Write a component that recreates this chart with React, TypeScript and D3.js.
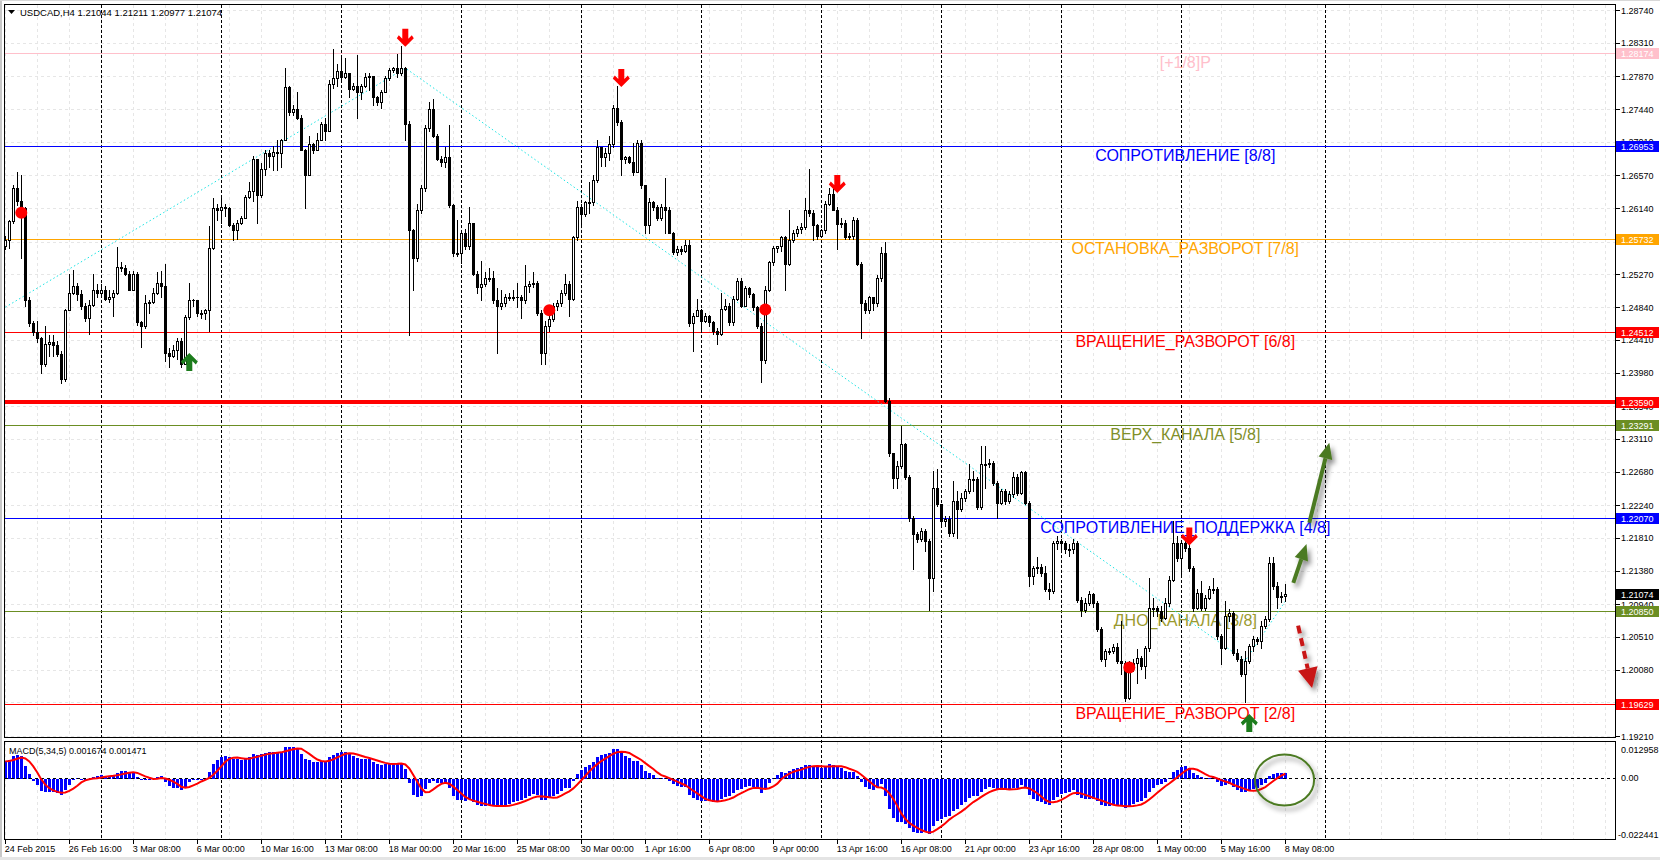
import React from 'react';
import * as d3 from 'd3';

// ---------- DATA ----------
const SYMBOL_HEADER = 'USDCAD,H4  1.21044 1.21211 1.20977 1.21074';
const MACD_HEADER = 'MACD(5,34,5) 0.001674 0.001471';

const FIRST_OPEN = 1.2565;
const CLOSE = [
  1.2572, 1.2597, 1.2641, 1.2624, 1.2614, 1.2493, 1.2463, 1.2451, 1.2443, 1.2410,
  1.2436, 1.2438, 1.2435, 1.2423, 1.2390, 1.2481, 1.2503, 1.2512, 1.2502, 1.2485,
  1.2470, 1.2487, 1.2507, 1.2503, 1.2507, 1.2495, 1.2498, 1.2503, 1.2537, 1.2535,
  1.2528, 1.2507, 1.2527, 1.2464, 1.2459, 1.2490, 1.2491, 1.2503, 1.2516, 1.2512,
  1.2424, 1.2420, 1.2428, 1.2440, 1.2410, 1.2471, 1.2494, 1.2493, 1.2476, 1.2477,
  1.2480, 1.2562, 1.2614, 1.2611, 1.2616, 1.2614, 1.2592, 1.2585, 1.2595, 1.2601,
  1.2629, 1.2637, 1.2678, 1.2632, 1.2666, 1.2686, 1.2683, 1.2688, 1.2687, 1.2704,
  1.2773, 1.2740, 1.2744, 1.2733, 1.2691, 1.2657, 1.2698, 1.2691, 1.2704, 1.2724,
  1.2716, 1.2777, 1.2785, 1.2794, 1.2786, 1.2791, 1.2771, 1.2775, 1.2766, 1.2774,
  1.2786, 1.2787, 1.2760, 1.2754, 1.2766, 1.2785, 1.2796, 1.2798, 1.2791, 1.2798,
  1.2724, 1.2586, 1.2548, 1.2612, 1.2640, 1.2719, 1.2744, 1.2709, 1.2678, 1.2675,
  1.2681, 1.2618, 1.2555, 1.2555, 1.2582, 1.2564, 1.2594, 1.2528, 1.2510, 1.2515,
  1.2523, 1.2523, 1.2493, 1.2486, 1.2489, 1.2497, 1.2497, 1.2498, 1.2497, 1.2493,
  1.2512, 1.2514, 1.2516, 1.2477, 1.2424, 1.2460, 1.2468, 1.2486, 1.2489, 1.2503,
  1.2515, 1.2495, 1.2576, 1.2615, 1.2607, 1.2622, 1.2622, 1.2651, 1.2694, 1.2681,
  1.2687, 1.2698, 1.2745, 1.2727, 1.2678, 1.2681, 1.2675, 1.2661, 1.2699, 1.2645,
  1.2592, 1.2622, 1.2615, 1.2601, 1.2615, 1.2612, 1.2582, 1.2556, 1.2560, 1.2558,
  1.2566, 1.2463, 1.2473, 1.2480, 1.2466, 1.2473, 1.2464, 1.2453, 1.2449, 1.2482,
  1.2486, 1.2464, 1.2495, 1.2519, 1.2486, 1.2509, 1.2502, 1.2484, 1.2460, 1.2415,
  1.2507, 1.2543, 1.2562, 1.2564, 1.2576, 1.2541, 1.2572, 1.2582, 1.2587, 1.2589,
  1.2611, 1.2608, 1.2592, 1.2578, 1.2585, 1.2620, 1.2633, 1.2612, 1.2593, 1.2595,
  1.2576, 1.2578, 1.2598, 1.2541, 1.2489, 1.2481, 1.2497, 1.2490, 1.2522, 1.2555,
  1.2361, 1.2292, 1.2260, 1.2276, 1.2305, 1.2261, 1.2207, 1.2186, 1.2180, 1.2190,
  1.2177, 1.2129, 1.2247, 1.2226, 1.2203, 1.2206, 1.2188, 1.2230, 1.2219, 1.2234,
  1.2243, 1.2259, 1.2259, 1.2222, 1.2278, 1.2278, 1.2280, 1.2253, 1.2227, 1.2243,
  1.2230, 1.2239, 1.2261, 1.2240, 1.2267, 1.2227, 1.2131, 1.2142, 1.2143, 1.2135,
  1.2114, 1.2112, 1.2175, 1.2177, 1.2175, 1.2167, 1.2167, 1.2175, 1.2100, 1.2087,
  1.2096, 1.2108, 1.2095, 1.2062, 1.2022, 1.2033, 1.2033, 1.2038, 1.2020, 1.2017,
  1.1971, 1.2013, 1.2017, 1.2024, 1.2013, 1.2036, 1.2089, 1.2089, 1.2085, 1.2076,
  1.2095, 1.2126, 1.2175, 1.2155, 1.2175, 1.2168, 1.2142, 1.2089, 1.2109, 1.2089,
  1.2102, 1.2114, 1.2114, 1.2052, 1.2036, 1.2078, 1.2082, 1.2030, 1.2022, 1.2003,
  1.2020, 1.2039, 1.2048, 1.2046, 1.2065, 1.2075, 1.2148, 1.2118, 1.2103, 1.21044,
  1.21074,
];
const HIGH = [
  1.2577, 1.2599, 1.2645, 1.2662, 1.2657, 1.2616, 1.2497, 1.2466, 1.2466, 1.2445,
  1.2459, 1.2447, 1.2447, 1.2439, 1.2427, 1.2482, 1.2528, 1.2533, 1.2516, 1.2506,
  1.2489, 1.2494, 1.2528, 1.2515, 1.2515, 1.2512, 1.2506, 1.2506, 1.2563, 1.2543,
  1.2539, 1.2531, 1.2532, 1.2530, 1.2466, 1.2500, 1.2494, 1.2509, 1.2530, 1.2532,
  1.2541, 1.2430, 1.2434, 1.2443, 1.2443, 1.2474, 1.2516, 1.2495, 1.2493, 1.2481,
  1.2482, 1.2591, 1.2627, 1.2619, 1.2628, 1.2620, 1.2615, 1.2595, 1.2598, 1.2604,
  1.2632, 1.2648, 1.2683, 1.2677, 1.2674, 1.2690, 1.2690, 1.2696, 1.2703, 1.2705,
  1.2798, 1.2775, 1.2749, 1.2766, 1.2736, 1.2692, 1.2709, 1.2700, 1.2713, 1.2727,
  1.2732, 1.2782, 1.2823, 1.2804, 1.2815, 1.2811, 1.2791, 1.2778, 1.2815, 1.2777,
  1.2791, 1.2791, 1.2787, 1.2761, 1.2769, 1.2787, 1.2798, 1.2800, 1.2817, 1.2827,
  1.2800, 1.2728, 1.2587, 1.2620, 1.2644, 1.2723, 1.2754, 1.2757, 1.2712, 1.2683,
  1.2694, 1.2723, 1.2619, 1.2598, 1.2585, 1.2587, 1.2615, 1.2595, 1.2532, 1.2545,
  1.2530, 1.2535, 1.2532, 1.2509, 1.2506, 1.2502, 1.2503, 1.2506, 1.2516, 1.2500,
  1.2539, 1.2518, 1.2530, 1.2519, 1.2480, 1.2466, 1.2480, 1.2489, 1.2493, 1.2506,
  1.2528, 1.2519, 1.2578, 1.2624, 1.2620, 1.2624, 1.2648, 1.2657, 1.2703, 1.2695,
  1.2693, 1.2709, 1.2749, 1.2775, 1.2730, 1.2683, 1.2683, 1.2699, 1.2703, 1.2703,
  1.2645, 1.2628, 1.2624, 1.2618, 1.2620, 1.2654, 1.2615, 1.2583, 1.2565, 1.2565,
  1.2572, 1.2572, 1.2476, 1.2495, 1.2482, 1.2477, 1.2474, 1.2466, 1.2457, 1.2503,
  1.2495, 1.2489, 1.2499, 1.2522, 1.2522, 1.2512, 1.2511, 1.2503, 1.2486, 1.2463,
  1.2512, 1.2545, 1.2565, 1.2565, 1.2578, 1.2577, 1.2611, 1.2585, 1.2591, 1.2595,
  1.2627, 1.2666, 1.2611, 1.2593, 1.2587, 1.2624, 1.2641, 1.2640, 1.2615, 1.2601,
  1.2598, 1.2582, 1.2602, 1.2601, 1.2543, 1.2493, 1.2499, 1.2498, 1.2526, 1.2563,
  1.2569, 1.2365, 1.2293, 1.2282, 1.2328, 1.2306, 1.2264, 1.2210, 1.2189, 1.2194,
  1.2193, 1.2180, 1.2269, 1.2271, 1.2223, 1.2210, 1.2210, 1.2256, 1.2243, 1.2240,
  1.2245, 1.2278, 1.2269, 1.2261, 1.2302, 1.2302, 1.2285, 1.2282, 1.2256, 1.2245,
  1.2245, 1.2243, 1.2267, 1.2265, 1.2269, 1.2269, 1.2230, 1.2144, 1.2156, 1.2147,
  1.2144, 1.2122, 1.2177, 1.2184, 1.2180, 1.2177, 1.2173, 1.2180, 1.2177, 1.2103,
  1.2102, 1.2112, 1.2109, 1.2098, 1.2064, 1.2035, 1.2037, 1.2042, 1.2043, 1.2072,
  1.2020, 1.2020, 1.2022, 1.2035, 1.2026, 1.2039, 1.2129, 1.2102, 1.2092, 1.2092,
  1.2102, 1.2131, 1.2203, 1.2184, 1.2177, 1.2177, 1.2177, 1.2144, 1.2114, 1.2125,
  1.2106, 1.2118, 1.2129, 1.2116, 1.2055, 1.2098, 1.2088, 1.2085, 1.2035, 1.2026,
  1.2033, 1.2042, 1.2052, 1.2051, 1.2072, 1.2079, 1.2156, 1.2156, 1.2123, 1.2110,
  1.21211,
];
const LOW = [
  1.2561, 1.2562, 1.2595, 1.2618, 1.2549, 1.2486, 1.2459, 1.2448, 1.2438, 1.2398,
  1.2407, 1.2420, 1.2420, 1.2420, 1.2385, 1.2387, 1.2480, 1.2502, 1.2493, 1.2482,
  1.2466, 1.2449, 1.2485, 1.2498, 1.2498, 1.2493, 1.2491, 1.2473, 1.2502, 1.2532,
  1.2526, 1.2506, 1.2506, 1.2461, 1.2432, 1.2457, 1.2476, 1.2489, 1.2502, 1.2497,
  1.2414, 1.2405, 1.2419, 1.2416, 1.2405, 1.2409, 1.2468, 1.2485, 1.2473, 1.2470,
  1.2468, 1.2453, 1.2561, 1.2598, 1.2595, 1.2604, 1.2590, 1.2572, 1.2573, 1.2593,
  1.2601, 1.2627, 1.2624, 1.2595, 1.2629, 1.2658, 1.2668, 1.2664, 1.2664, 1.2668,
  1.2703, 1.2737, 1.2736, 1.2731, 1.2690, 1.2614, 1.2658, 1.2687, 1.2690, 1.2703,
  1.2703, 1.2715, 1.2772, 1.2775, 1.2782, 1.2785, 1.2760, 1.2769, 1.2733, 1.2758,
  1.2773, 1.2769, 1.2749, 1.2749, 1.2746, 1.2766, 1.2782, 1.2793, 1.2786, 1.2789,
  1.2703, 1.2447, 1.2506, 1.2545, 1.2608, 1.2637, 1.2716, 1.2707, 1.2677, 1.2670,
  1.2668, 1.2616, 1.2551, 1.2551, 1.2542, 1.2560, 1.2561, 1.2526, 1.2503, 1.2494,
  1.2512, 1.2519, 1.2490, 1.2424, 1.2482, 1.2485, 1.2493, 1.2494, 1.2484, 1.2470,
  1.2490, 1.2504, 1.2511, 1.2474, 1.2410, 1.2409, 1.2453, 1.2466, 1.2480, 1.2486,
  1.2500, 1.2473, 1.2493, 1.2572, 1.2589, 1.2604, 1.2608, 1.2618, 1.2648, 1.2670,
  1.2670, 1.2677, 1.2695, 1.2723, 1.2657, 1.2674, 1.2673, 1.2657, 1.2661, 1.2641,
  1.2582, 1.2581, 1.2611, 1.2598, 1.2598, 1.2582, 1.2581, 1.2554, 1.2552, 1.2554,
  1.2556, 1.2460, 1.2427, 1.2472, 1.2451, 1.2464, 1.2460, 1.2449, 1.2436, 1.2448,
  1.2480, 1.2461, 1.2461, 1.2493, 1.2484, 1.2485, 1.2498, 1.2481, 1.2457, 1.2386,
  1.2411, 1.2505, 1.2540, 1.2556, 1.2558, 1.2507, 1.2539, 1.2569, 1.2578, 1.2581,
  1.2587, 1.2604, 1.2572, 1.2574, 1.2576, 1.2582, 1.2618, 1.2611, 1.2561, 1.2589,
  1.2573, 1.2574, 1.2573, 1.2539, 1.2443, 1.2477, 1.2477, 1.2480, 1.2486, 1.2519,
  1.2359, 1.2289, 1.2247, 1.2247, 1.2273, 1.2259, 1.2203, 1.2140, 1.2176, 1.2177,
  1.2164, 1.2087, 1.2112, 1.2223, 1.2199, 1.2197, 1.2184, 1.2184, 1.2181, 1.2217,
  1.2230, 1.2240, 1.2243, 1.2219, 1.2219, 1.2247, 1.2274, 1.2251, 1.2207, 1.2226,
  1.2226, 1.2227, 1.2235, 1.2238, 1.2239, 1.2225, 1.2118, 1.2121, 1.2135, 1.2131,
  1.2112, 1.2101, 1.2109, 1.2167, 1.2167, 1.2161, 1.2157, 1.2161, 1.2097, 1.2079,
  1.2084, 1.2093, 1.2091, 1.2059, 1.2020, 1.2013, 1.2029, 1.2030, 1.2017, 1.2003,
  1.1967, 1.1970, 1.2006, 1.1990, 1.2009, 1.1997, 1.2033, 1.2079, 1.2079, 1.2072,
  1.2075, 1.2092, 1.2125, 1.2151, 1.2131, 1.2164, 1.2138, 1.2085, 1.2088, 1.2087,
  1.2087, 1.2101, 1.2109, 1.2049, 1.2015, 1.2035, 1.2072, 1.2027, 1.2020, 1.2000,
  1.1966, 1.2017, 1.2033, 1.2042, 1.2036, 1.2063, 1.2072, 1.2114, 1.2089, 1.2097,
  1.20977,
];

const PRICE_TICKS = [
  1.2874, 1.2831, 1.2787, 1.2744, 1.2701, 1.2657, 1.2614, 1.257, 1.2527, 1.2484,
  1.2441, 1.2398, 1.2354, 1.2311, 1.2268, 1.2224, 1.2181, 1.2138, 1.2094, 1.2051,
  1.2008, 1.1965, 1.1921,
];
const TIME_LABEL_BARS = [0, 16, 32, 48, 64, 80, 96, 112, 128, 144, 160, 176, 192, 208, 224, 240, 256, 272, 288, 304, 320];
const TIME_LABELS = [
  '24 Feb 2015', '26 Feb 16:00', '3 Mar 08:00', '6 Mar 00:00', '10 Mar 16:00', '13 Mar 08:00',
  '18 Mar 00:00', '20 Mar 16:00', '25 Mar 08:00', '30 Mar 00:00', '1 Apr 16:00', '6 Apr 08:00',
  '9 Apr 00:00', '13 Apr 16:00', '16 Apr 08:00', '21 Apr 00:00', '23 Apr 16:00', '28 Apr 08:00',
  '1 May 00:00', '5 May 16:00', '8 May 08:00',
];
const WEEK_SEPARATOR_BARS = [24, 54, 84, 114, 144, 174, 204, 234, 264, 294, 330];

const LEVEL_PRICES = [1.28174, 1.26953, 1.25732, 1.24512, 1.2359, 1.23291, 1.2207, 1.2085, 1.19629];
const LEVEL_NAMES = [
  '[+1/8]P', 'СОПРОТИВЛЕНИЕ [8/8]', 'ОСТАНОВКА_РАЗВОРОТ [7/8]', 'ВРАЩЕНИЕ_РАЗВОРОТ [6/8]', '',
  'ВЕРХ_КАНАЛА [5/8]', 'СОПРОТИВЛЕНИЕ_ПОДДЕРЖКА [4/8]', 'ДНО_КАНАЛА [3/8]', 'ВРАЩЕНИЕ_РАЗВОРОТ [2/8]',
];
const LEVEL_COLORS = ['#FFC0CB', '#0000FF', '#FFA500', '#FF0000', '#FF0000', '#6B8E23', '#0000FF', '#6B8E23', '#FF0000'];
const LEVEL_TEXT_COLORS = ['#FFC0CB', '#0000FF', '#FFA500', '#FF0000', '#FF0000', '#7F8F2A', '#0000FF', '#9A9A2E', '#FF0000'];
const LEVEL_WIDTHS = [1, 1, 1, 1, 3.5, 1, 1, 1, 1];
const LEVEL_LABEL_BAR = 295;
const CURRENT_PRICE = 1.21074;

const SELL_SIGNALS = [{ bar: 100, price: 1.2826 }, { bar: 154, price: 1.2773 }, { bar: 208, price: 1.2634 }, { bar: 296, price: 1.2171 }];
const BUY_SIGNALS = [{ bar: 46, price: 1.2424 }, { bar: 311, price: 1.195 }];
const DOT_SIGNALS = [{ bar: 4, price: 1.2608 }, { bar: 136, price: 1.248 }, { bar: 190, price: 1.2481 }, { bar: 281, price: 1.2011 }];
const ZIGZAG = [{ bar: 0, price: 1.2484 }, { bar: 100, price: 1.2798 }, { bar: 310, price: 1.202 }, { bar: 320, price: 1.2098 }];
const SR_SEGMENT = { fromBar: 262, toBar: 329, price: 1.21786 };
const UP_ARROWS = [
  { fromBar: 322, fromPrice: 1.2122, toBar: 325.3, toPrice: 1.2173 },
  { fromBar: 326, fromPrice: 1.2201, toBar: 331, toPrice: 1.2306 },
];
const DOWN_ARROW = { fromBar: 323.2, fromPrice: 1.2066, toBar: 326.7, toPrice: 1.1984 };
const MACD_ELLIPSE = { fromBar: 312.4, toBar: 327.2, top: 0.0085, bottom: -0.0103 };

const MACD_FAST = 5, MACD_SLOW = 34, MACD_SIGNAL = 5;
const PRIOR_EMA_FAST = 1.256, PRIOR_EMA_SLOW = 1.25;
const MACD_MAX = 0.012958, MACD_MIN = -0.022441;

// ---------- LAYOUT ----------
const W = 1660, H = 860;
const LEFT = 4.5, RIGHT = 1615.5;
const MAIN_TOP = 4.5, MAIN_BOTTOM = 737.5;
const SUB_TOP = 741.5, SUB_BOTTOM = 839.5;
const FONT = 'Liberation Sans, Arial, sans-serif';

export default function App() {
  const xB = d3.scaleLinear().domain([0, 320]).range([5.3, 1285.3]);
  const yP = d3.scaleLinear().domain([1.1921, 1.2874]).range([736, 10.2]);
  const yM = d3.scaleLinear().domain([MACD_MIN, MACD_MAX]).range([838.5, 742.5]);

  // MACD(5,34,5)
  const aF = 2 / (MACD_FAST + 1), aS = 2 / (MACD_SLOW + 1);
  let ef = PRIOR_EMA_FAST, es = PRIOR_EMA_SLOW;
  const main = CLOSE.map((c) => { ef += aF * (c - ef); es += aS * (c - es); return ef - es; });
  const priorMain = PRIOR_EMA_FAST - PRIOR_EMA_SLOW;
  const signal = main.map((_, i) => {
    let s = 0;
    for (let k = 0; k < MACD_SIGNAL; k++) { const j = i - k; s += j >= 0 ? main[j] : priorMain; }
    return s / MACD_SIGNAL;
  });
  const signalPath = d3.line<number>().x((_, i) => xB(i)).y((v) => yM(v)).curve(d3.curveLinear)(signal) || '';
  const zigPath = d3.line<{ bar: number; price: number }>().x((d) => xB(d.bar)).y((d) => yP(d.price))(ZIGZAG) || '';

  const gridBars = d3.range(0, 401, 8);
  const zero = Math.round(yM(0)) + 0.5;

  const arrowHead = (x1: number, y1: number, x2: number, y2: number, len: number, half: number) => {
    const dx = x2 - x1, dy = y2 - y1, L = Math.hypot(dx, dy);
    const ux = dx / L, uy = dy / L;
    const bx = x2 - ux * len, by = y2 - uy * len;
    return { pts: `${x2},${y2} ${bx - uy * half},${by + ux * half} ${bx + uy * half},${by - ux * half}`, bx, by };
  };

  const sellGlyph = (cx: number, tip: number) =>
    `M${cx - 3},${tip - 18} L${cx + 3},${tip - 18} L${cx + 3},${tip - 8} L${cx + 6.5},${tip - 11.5} L${cx + 8.5},${tip - 8.5} L${cx},${tip} L${cx - 8.5},${tip - 8.5} L${cx - 6.5},${tip - 11.5} L${cx - 3},${tip - 8} Z`;
  const buyGlyph = (cx: number, tip: number) =>
    `M${cx - 3},${tip + 18} L${cx + 3},${tip + 18} L${cx + 3},${tip + 8} L${cx + 6.5},${tip + 11.5} L${cx + 8.5},${tip + 8.5} L${cx},${tip} L${cx - 8.5},${tip + 8.5} L${cx - 6.5},${tip + 11.5} L${cx - 3},${tip + 8} Z`;

  return (
    <div style={{ position: 'absolute', left: 0, top: 0, width: W, height: H, background: '#fff' }}>
      <svg width={W} height={H} style={{ display: 'block', fontFamily: FONT }}>
        <defs>
          <filter id="shadow" x="-50%" y="-50%" width="200%" height="200%">
            <feDropShadow dx="3" dy="4" stdDeviation="2.5" floodColor="#000" floodOpacity="0.45" />
          </filter>
          <clipPath id="mainClip"><rect x={LEFT} y={MAIN_TOP} width={RIGHT - LEFT} height={MAIN_BOTTOM - MAIN_TOP} /></clipPath>
          <clipPath id="subClip"><rect x={LEFT} y={SUB_TOP} width={RIGHT - LEFT} height={SUB_BOTTOM - SUB_TOP} /></clipPath>
        </defs>
        <rect x={0} y={0} width={W} height={H} fill="#fff" />
        <rect x={0} y={0} width={2} height={H} fill="#c8c8c8" />
        <rect x={0} y={0} width={W} height={1} fill="#d8d8d8" />
        <rect x={0} y={857} width={W} height={3} fill="#e4e4e4" />

        {/* grid */}
        <g stroke="#e6e6e6" strokeWidth={1} strokeDasharray="3,3" shapeRendering="crispEdges">
          {gridBars.filter((b) => xB(b) < RIGHT - 2).map((b) => (
            <line key={'gv' + b} x1={Math.round(xB(b)) + 0.5} x2={Math.round(xB(b)) + 0.5} y1={MAIN_TOP} y2={MAIN_BOTTOM} />
          ))}
          {gridBars.filter((b) => xB(b) < RIGHT - 2).map((b) => (
            <line key={'gs' + b} x1={Math.round(xB(b)) + 0.5} x2={Math.round(xB(b)) + 0.5} y1={SUB_TOP} y2={SUB_BOTTOM} />
          ))}
          {PRICE_TICKS.map((p) => (
            <line key={'gh' + p} x1={LEFT} x2={RIGHT} y1={Math.round(yP(p)) + 0.5} y2={Math.round(yP(p)) + 0.5} />
          ))}
        </g>

        {/* week separators */}
        <g stroke="#000" strokeWidth={1} strokeDasharray="3,2" shapeRendering="crispEdges">
          {WEEK_SEPARATOR_BARS.map((b) => (
            <line key={'ws' + b} x1={Math.round(xB(b)) + 0.5} x2={Math.round(xB(b)) + 0.5} y1={MAIN_TOP} y2={SUB_BOTTOM} />
          ))}
        </g>

        {/* level lines + names */}
        <g clipPath="url(#mainClip)">
          {LEVEL_PRICES.map((p, i) => (
            <line key={'lv' + i} x1={LEFT} x2={RIGHT} y1={Math.round(yP(p)) + (LEVEL_WIDTHS[i] > 2 ? 0 : 0.5)} y2={Math.round(yP(p)) + (LEVEL_WIDTHS[i] > 2 ? 0 : 0.5)}
              stroke={LEVEL_COLORS[i]} strokeWidth={LEVEL_WIDTHS[i]} shapeRendering="crispEdges" />
          ))}
          {LEVEL_PRICES.map((p, i) => LEVEL_NAMES[i] ? (
            <text key={'ln' + i} x={xB(LEVEL_LABEL_BAR)} y={yP(p) + 15} textAnchor="middle" fontSize={16} fill={LEVEL_TEXT_COLORS[i]}>{LEVEL_NAMES[i]}</text>
          ) : null)}
        </g>

        {/* zigzag */}
        <path d={zigPath} fill="none" stroke="#19E3E3" strokeWidth={1} strokeDasharray="1.5,2.5" clipPath="url(#mainClip)" />

        {/* support/resistance segment */}
        <line x1={xB(SR_SEGMENT.fromBar)} x2={xB(SR_SEGMENT.toBar)} y1={yP(SR_SEGMENT.price)} y2={yP(SR_SEGMENT.price)}
          stroke="#0000FF" strokeWidth={4} filter="url(#shadow)" />

        {/* candles */}
        <g shapeRendering="crispEdges" clipPath="url(#mainClip)">
          {CLOSE.map((c, i) => {
            const o = i === 0 ? FIRST_OPEN : CLOSE[i - 1];
            const h = Math.max(HIGH[i], o, c), l = Math.min(LOW[i], o, c);
            const xc = Math.round(xB(i));
            const yo = Math.round(yP(o)), yc = Math.round(yP(c));
            const bull = c >= o;
            return (
              <g key={'c' + i}>
                <line x1={xc + 0.5} x2={xc + 0.5} y1={Math.round(yP(h))} y2={Math.round(yP(l)) + 1} stroke="#000" strokeWidth={1} />
                {bull ? (
                  <rect x={xc - 0.5} y={yc + 0.5} width={2} height={Math.max(1, yo - yc)} fill="#fff" stroke="#000" strokeWidth={1} />
                ) : (
                  <rect x={xc - 1} y={yo} width={3} height={Math.max(1, yc - yo + 1)} fill="#000" />
                )}
              </g>
            );
          })}
        </g>

        {/* signal markers */}
        {DOT_SIGNALS.map((d, i) => (
          <circle key={'dot' + i} cx={xB(d.bar)} cy={yP(d.price)} r={6} fill="#FF0000" />
        ))}
        {SELL_SIGNALS.map((d, i) => (
          <path key={'sell' + i} d={sellGlyph(xB(d.bar), yP(d.price))} fill="#FF0000" />
        ))}
        {BUY_SIGNALS.map((d, i) => (
          <path key={'buy' + i} d={buyGlyph(xB(d.bar), yP(d.price))} fill="#1C7C1C" />
        ))}

        {/* forecast arrows */}
        {UP_ARROWS.map((a, i) => {
          const x1 = xB(a.fromBar), y1 = yP(a.fromPrice), x2 = xB(a.toBar), y2 = yP(a.toPrice);
          const hd = arrowHead(x1, y1, x2, y2, 16, 7);
          return (
            <g key={'ua' + i} filter="url(#shadow)">
              <line x1={x1} y1={y1} x2={hd.bx} y2={hd.by} stroke="#4C7A22" strokeWidth={4} />
              <polygon points={hd.pts} fill="#4C7A22" />
            </g>
          );
        })}
        {(() => {
          const a = DOWN_ARROW;
          const x1 = xB(a.fromBar), y1 = yP(a.fromPrice), x2 = xB(a.toBar), y2 = yP(a.toPrice);
          const hd = arrowHead(x1, y1, x2, y2, 20, 10);
          return (
            <g filter="url(#shadow)">
              <line x1={x1} y1={y1} x2={hd.bx} y2={hd.by} stroke="#C81414" strokeWidth={4} strokeDasharray="8,5" />
              <polygon points={hd.pts} fill="#C81414" />
            </g>
          );
        })()}

        {/* MACD */}
        <g clipPath="url(#subClip)">
          <g shapeRendering="crispEdges">
            {main.map((m, i) => {
              const xc = Math.round(xB(i));
              const yv = Math.round(yM(m));
              return <rect key={'h' + i} x={xc - 1} y={Math.min(yv, zero)} width={3} height={Math.max(1, Math.abs(yv - zero))} fill="#0000FF" />;
            })}
          </g>
          <line x1={LEFT} x2={RIGHT} y1={zero} y2={zero} stroke="#000" strokeDasharray="3,3" shapeRendering="crispEdges" />
          <path d={signalPath} fill="none" stroke="#FF0000" strokeWidth={2} />
          <ellipse cx={(xB(MACD_ELLIPSE.fromBar) + xB(MACD_ELLIPSE.toBar)) / 2} cy={(yM(MACD_ELLIPSE.top) + yM(MACD_ELLIPSE.bottom)) / 2}
            rx={(xB(MACD_ELLIPSE.toBar) - xB(MACD_ELLIPSE.fromBar)) / 2} ry={(yM(MACD_ELLIPSE.bottom) - yM(MACD_ELLIPSE.top)) / 2}
            fill="none" stroke="#4C7A22" strokeWidth={2} filter="url(#shadow)" />
        </g>

        {/* frames */}
        <rect x={LEFT} y={MAIN_TOP} width={RIGHT - LEFT} height={MAIN_BOTTOM - MAIN_TOP} fill="none" stroke="#000" shapeRendering="crispEdges" />
        <rect x={LEFT} y={SUB_TOP} width={RIGHT - LEFT} height={SUB_BOTTOM - SUB_TOP} fill="none" stroke="#000" shapeRendering="crispEdges" />

        {/* header texts */}
        <path d="M8,10 L15,10 L11.5,14 Z" fill="#000" />
        <text x={20} y={16} fontSize={9.5} fill="#000">{SYMBOL_HEADER}</text>
        <text x={9} y={754} fontSize={9} fill="#000">{MACD_HEADER}</text>

        {/* price axis */}
        <g fontSize={9} fill="#000">
          {PRICE_TICKS.map((p) => (
            <g key={'pt' + p}>
              <line x1={RIGHT} x2={RIGHT + 4} y1={Math.round(yP(p)) + 0.5} y2={Math.round(yP(p)) + 0.5} stroke="#000" shapeRendering="crispEdges" />
              <text x={1621} y={yP(p) + 3.5}>{p.toFixed(5)}</text>
            </g>
          ))}
        </g>
        <g fontSize={9}>
          {LEVEL_PRICES.map((p, i) => (
            <g key={'tag' + i}>
              <rect x={1616} y={Math.round(yP(p)) - 5} width={43} height={11} fill={LEVEL_COLORS[i]} />
              <text x={1621} y={Math.round(yP(p)) + 3.5} fill="#fff">{p.toFixed(5)}</text>
            </g>
          ))}
          <rect x={1616} y={Math.round(yP(CURRENT_PRICE)) - 5} width={43} height={11} fill="#000" />
          <text x={1621} y={Math.round(yP(CURRENT_PRICE)) + 3.5} fill="#fff">{CURRENT_PRICE.toFixed(5)}</text>
        </g>

        {/* MACD axis */}
        <g fontSize={9} fill="#000">
          <text x={1621} y={yM(MACD_MAX) + 10}>{MACD_MAX.toFixed(6)}</text>
          <text x={1621} y={yM(0) + 3.5}>{(0).toFixed(2)}</text>
          <text x={1618} y={yM(MACD_MIN) - 1}>{MACD_MIN.toFixed(6)}</text>
        </g>

        {/* time axis */}
        <g fontSize={9} fill="#000">
          {TIME_LABEL_BARS.map((b, i) => (
            <g key={'tl' + b}>
              <line x1={Math.round(xB(b)) + 0.5} x2={Math.round(xB(b)) + 0.5} y1={SUB_BOTTOM} y2={SUB_BOTTOM + 4} stroke="#000" shapeRendering="crispEdges" />
              <text x={xB(b) - 0.5} y={852}>{TIME_LABELS[i]}</text>
            </g>
          ))}
        </g>
      </svg>
    </div>
  );
}
